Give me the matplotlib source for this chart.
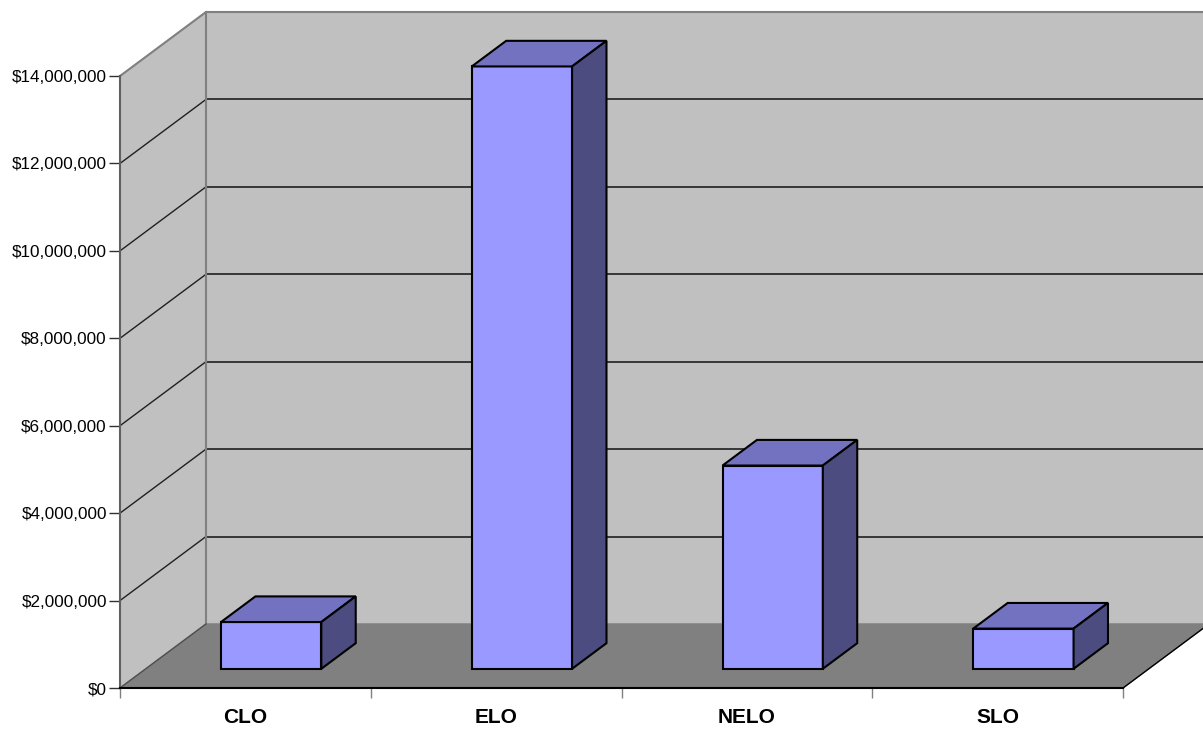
import matplotlib
matplotlib.use('Agg')
import matplotlib.pyplot as plt
from matplotlib.ticker import FuncFormatter

# data
categories = ['CLO', 'ELO', 'NELO', 'SLO']
values = [1070000, 13780000, 4650000, 920000]
y_ticks = [0, 2000000, 4000000, 6000000, 8000000, 10000000, 12000000, 14000000]

# oblique depth offset (in data units) and bar depth range
dx = 0.343
dy = 1465000
f1, f2 = 0.3, 0.7
bar_w = 0.4
ytop = y_ticks[-1]
n = len(categories)

fig = plt.figure(figsize=(12.03, 7.30), dpi=100)
ax = fig.add_axes([120 / 1203, 42 / 730, 1083 / 1203, 676 / 730])
ax.set_xlim(0, 1083 / 250.75)
ax.set_ylim(0, ytop + dy)
ax.patch.set_alpha(0)

wall = '#c0c0c0'
floor = '#808080'
edge = '#808080'

# left wall
ax.fill([0, dx, dx, 0], [0, dy, ytop + dy, ytop], color=wall, zorder=1, clip_on=False)
# back wall
ax.fill([dx, n + dx, n + dx, dx], [dy, dy, ytop + dy, ytop + dy], color=wall, zorder=1, clip_on=False)
# floor
ax.fill([0, n, n + dx, dx], [0, 0, dy, dy], color=floor, zorder=1, clip_on=False)

# gridlines
for v in y_ticks[1:-1]:
    ax.plot([dx, n + dx], [v + dy, v + dy], color='#202020', lw=1.2, zorder=2, clip_on=False)
    ax.plot([0, dx], [v, v + dy], color='#202020', lw=1.0, zorder=2, clip_on=False)

# wall edges
ax.plot([0, dx, n + dx + 1], [ytop, ytop + dy, ytop + dy], color=edge, lw=1.5, zorder=2, clip_on=False)
ax.plot([dx, dx], [dy, ytop + dy], color=edge, lw=1.5, zorder=2, clip_on=False)
ax.plot([0, dx], [0, dy], color='#505050', lw=1.0, zorder=2, clip_on=False)
ax.plot([n, n + dx], [0, dy], color='black', lw=1.0, zorder=2, clip_on=False)

# bars
ddx = (f2 - f1) * dx
ddy = (f2 - f1) * dy
for i, v in enumerate(values):
    xl = i + 0.5 - bar_w / 2 + f1 * dx
    xr = xl + bar_w
    yb = f1 * dy
    yt = yb + v
    ax.fill([xl, xr, xr, xl], [yb, yb, yt, yt], facecolor='#9999ff',
            edgecolor='black', lw=1.5, zorder=3, joinstyle='miter')
    ax.fill([xl, xr, xr + ddx, xl + ddx], [yt, yt, yt + ddy, yt + ddy], facecolor='#7272c0',
            edgecolor='black', lw=1.5, zorder=3, joinstyle='miter')
    ax.fill([xr, xr + ddx, xr + ddx, xr], [yb, yb + ddy, yt + ddy, yt], facecolor='#4c4c80',
            edgecolor='black', lw=1.5, zorder=3, joinstyle='miter')

# axes
for s in ['top', 'right']:
    ax.spines[s].set_visible(False)
ax.spines['left'].set_bounds(0, ytop)
ax.spines['left'].set_color('#606060')
ax.spines['left'].set_linewidth(1.5)
ax.spines['bottom'].set_bounds(0, n)
ax.spines['bottom'].set_color('black')
ax.spines['bottom'].set_linewidth(1.5)
ax.spines['left'].set_zorder(4)
ax.spines['bottom'].set_zorder(4)

ax.set_yticks(y_ticks)
ax.yaxis.set_major_formatter(FuncFormatter(lambda v, p: '${:,.0f}'.format(v)))
ax.tick_params(axis='y', direction='out', length=8, width=1, color='#303030', pad=1.5,
               labelsize=12.3, labelcolor='black')

ax.set_xticks(range(n + 1))
ax.set_xticklabels([])
ax.set_xticks([i + 0.5 for i in range(n)], minor=True)
ax.set_xticklabels(categories, minor=True, fontsize=15, fontweight='bold')
ax.tick_params(axis='x', which='minor', length=0, pad=14.5)
ax.tick_params(axis='x', which='major', direction='out', length=7, width=1, color='#808080')

for t in ax.get_yticklabels() + ax.get_xticklabels(minor=True):
    t.set_family(['Liberation Sans', 'DejaVu Sans'])

fig.savefig('out.png', dpi=100, facecolor='white')
